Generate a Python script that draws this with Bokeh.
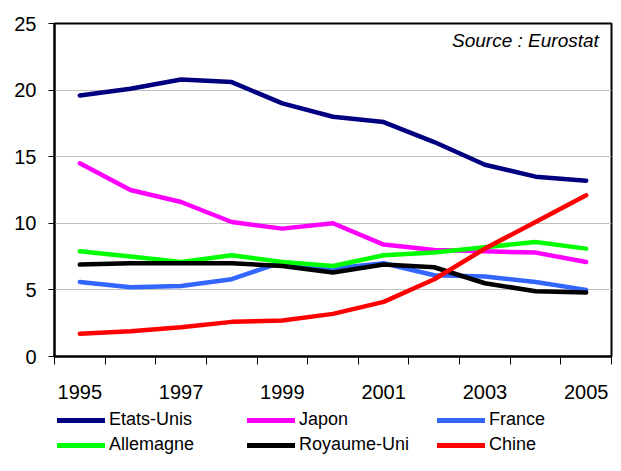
from bokeh.plotting import figure
from bokeh.layouts import column
from bokeh.models import Range1d, FixedTicker, Legend, LegendItem, Label
from bokeh.embed import file_html
from bokeh.resources import INLINE

years = [1995, 1996, 1997, 1998, 1999, 2000, 2001, 2002, 2003, 2004, 2005]
etats_unis = [19.6, 20.1, 20.8, 20.6, 19.0, 18.0, 17.6, 16.1, 14.4, 13.5, 13.2]
japon = [14.5, 12.5, 11.6, 10.1, 9.6, 10.0, 8.4, 8.0, 7.9, 7.8, 7.1]
france = [5.6, 5.2, 5.3, 5.8, 7.1, 6.6, 7.0, 6.1, 6.0, 5.6, 5.0]
allemagne = [7.9, 7.5, 7.1, 7.6, 7.1, 6.8, 7.6, 7.8, 8.2, 8.6, 8.1]
royaume_uni = [6.9, 7.0, 7.0, 7.0, 6.8, 6.3, 6.9, 6.7, 5.5, 4.9, 4.8]
chine = [1.7, 1.9, 2.2, 2.6, 2.7, 3.2, 4.1, 5.8, 8.1, 10.1, 12.1]

series_names = ["Etats-Unis", "Japon", "France", "Allemagne", "Royaume-Uni", "Chine"]
series_values = [etats_unis, japon, france, allemagne, royaume_uni, chine]
series_colors = ["#000080", "#FF00FF", "#3366FF", "#00FF00", "#000000", "#FF0000"]

y_ticks = [0, 5, 10, 15, 20, 25]
x_label_years = [1995, 1997, 1999, 2001, 2003, 2005]
source_text = "Source : Eurostat"

FONT = "Liberation Sans"
W = 613

p = figure(width=W, height=408, output_backend="svg", toolbar_location=None,
           x_range=Range1d(years[0] - 0.5, years[-1] + 0.5), y_range=Range1d(0, 25),
           min_border_top=23, min_border_left=54, min_border_right=2, min_border_bottom=52)

p.outline_line_color = "black"
p.outline_line_width = 2
p.background_fill_color = "white"
p.border_fill_color = "white"

p.xgrid.grid_line_color = None
p.ygrid.grid_line_color = "#c0c0c0"
p.ygrid.grid_line_width = 1

p.yaxis.ticker = FixedTicker(ticks=y_ticks)
p.yaxis.axis_line_color = "black"
p.yaxis.axis_line_width = 2
p.yaxis.major_tick_in = 0
p.yaxis.major_tick_out = 6
p.yaxis.major_tick_line_color = "black"
p.yaxis.minor_tick_line_color = None
p.yaxis.major_label_standoff = 12
p.yaxis.major_label_text_font = FONT
p.yaxis.major_label_text_font_size = "20px"
p.yaxis.major_label_text_color = "black"

bounds = [y - 0.5 for y in years] + [years[-1] + 0.5]
p.xaxis.ticker = FixedTicker(ticks=x_label_years, minor_ticks=bounds)
p.xaxis.axis_line_color = "black"
p.xaxis.axis_line_width = 2
p.xaxis.major_tick_in = 0
p.xaxis.major_tick_out = 0
p.xaxis.minor_tick_in = 0
p.xaxis.minor_tick_out = 8
p.xaxis.minor_tick_line_color = "black"
p.xaxis.minor_tick_line_width = 1
p.xaxis.major_label_standoff = 20
p.xaxis.major_label_text_font = FONT
p.xaxis.major_label_text_font_size = "20px"
p.xaxis.major_label_text_color = "black"

for name, vals, col in zip(series_names, series_values, series_colors):
    p.line(years, vals, line_color=col, line_width=4.5, line_join="round", line_cap="round")

p.add_layout(Label(x=years[-1] + 0.25, y=24.5, text=source_text, text_align="right",
                   text_baseline="top", text_font=FONT, text_font_size="19px",
                   text_font_style="italic", text_color="black"))

# legend in its own strip below the chart (frame aligned with the chart frame)
lf = figure(width=W, height=47, output_backend="svg", toolbar_location=None,
            x_range=Range1d(0, 1), y_range=Range1d(0, 1),
            x_axis_location=None, y_axis_location=None,
            min_border=0, min_border_left=0, min_border_right=0,
            min_border_top=0, min_border_bottom=0)
lf.grid.visible = False
lf.outline_line_color = None
lf.background_fill_color = "white"
lf.border_fill_color = "white"

items = []
for name, col in zip(series_names, series_colors):
    r = lf.line([-10, -9], [-10, -9], line_color=col, line_width=5, line_cap="round")
    items.append(LegendItem(label=name, renderers=[r]))

legend = Legend(items=items, orientation="horizontal", ncols=3,
                location=(3, 0), margin=0, padding=0, spacing=4,
                glyph_width=48, glyph_height=10, label_width=134, label_height=20,
                label_standoff=4, label_text_font=FONT, label_text_font_size="18px",
                label_text_color="black", border_line_color=None,
                background_fill_alpha=0)
lf.add_layout(legend)

layout = column(p, lf, spacing=0)
open("out.html", "w").write(file_html(layout, INLINE))
